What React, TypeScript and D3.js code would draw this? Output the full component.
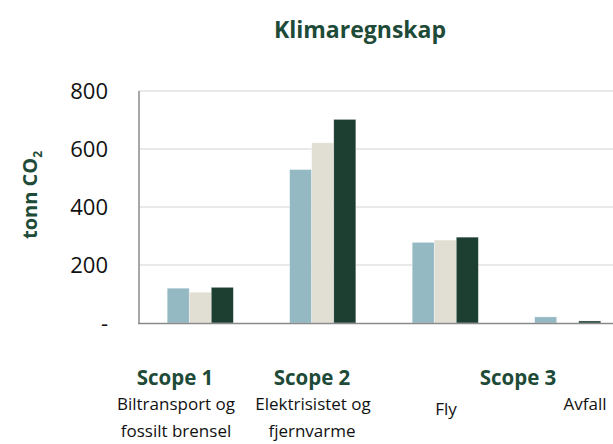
import * as React from "react";
import * as d3 from "d3";

const categories = ["bil", "el", "fly", "avfall"];
const seriesNames = ["År 1", "År 2", "År 3"];
const byCategory: number[][] = [
  [120, 106, 123],
  [529, 621, 702],
  [278, 286, 296],
  [21, 0, 7],
];
const yTicks = [0, 200, 400, 600, 800];
const colors = ["#94b9c3", "#e1dfd3", "#1d3f31"];

const W = 613;
const H = 444;
const green = "#1e4a38";
const font = "'Open Sans', sans-serif";

export default function App() {
  const x = d3
    .scaleBand<string>()
    .domain(categories)
    .range([139, 629])
    .paddingInner(0.46)
    .paddingOuter(0.23);
  const xs = d3.scaleBand<string>().domain(seriesNames).range([0, x.bandwidth()]);
  const y = d3.scaleLinear().domain([0, 800]).range([323, 91]);

  return (
    <svg width={W} height={H} style={{ position: "absolute", left: 0, top: 0, background: "#fff" }} fontFamily={font}>
      <text x={360} y={38} textAnchor="middle" fontSize={23} fontWeight={700} fill={green}>
        Klimaregnskap
      </text>

      {/* grid */}
      {yTicks.slice(1).map((t) => (
        <line key={t} x1={139} x2={W} y1={y(t)} y2={y(t)} stroke="#d3d3d3" strokeWidth={1} />
      ))}

      {/* bars */}
      {categories.map((c, ci) => (
        <g key={c} transform={`translate(${x(c)},0)`}>
          {byCategory[ci].map((v, si) =>
            v > 0 ? (
              <rect
                key={si}
                x={xs(seriesNames[si])}
                y={y(v)}
                width={xs.bandwidth()}
                height={y(0) - y(v)}
                fill={colors[si]}
                stroke="#ffffff"
                strokeOpacity={0.5}
                strokeWidth={0.6}
              />
            ) : null
          )}
        </g>
      ))}

      {/* axes */}
      <line x1={139} x2={139} y1={y(800)} y2={y(0)} stroke="#8a8a8a" strokeWidth={1.5} />
      <line x1={138} x2={W} y1={y(0) + 0.5} y2={y(0) + 0.5} stroke="#8a8a8a" strokeWidth={1.5} />

      {yTicks.map((t) => (
        <text key={t} x={108} y={y(t)} dy="0.36em" textAnchor="end" fontSize={22} fill="#111">
          {t === 0 ? "-" : d3.format("d")(t)}
        </text>
      ))}

      <text transform="translate(37,195) rotate(-90)" textAnchor="middle" fontSize={20} fontWeight={700} fill={green}>
        tonn CO<tspan fontSize={12} dy={5}>2</tspan>
      </text>

      {/* category labels */}
      <g fontSize={20.5} textAnchor="middle" fontWeight={700} fill={green}>
        <text x={175} y={385}>Scope 1</text>
        <text x={312} y={385}>Scope 2</text>
        <text x={518} y={385}>Scope 3</text>
      </g>
      <g fontSize={17} textAnchor="middle" fill="#111">
        <text x={176} y={410}>Biltransport og</text>
        <text x={176} y={437}>fossilt brensel</text>
        <text x={313} y={410}>Elektrisistet og</text>
        <text x={312} y={437}>fjernvarme</text>
        <text x={446} y={415}>Fly</text>
        <text x={585} y={410}>Avfall</text>
      </g>
    </svg>
  );
}
